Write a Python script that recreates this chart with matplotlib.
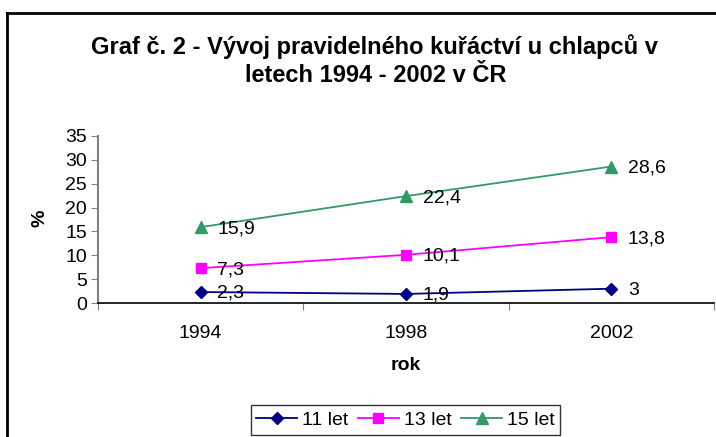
import matplotlib
matplotlib.use("Agg")
import matplotlib.pyplot as plt
from matplotlib.lines import Line2D

years = ["1994", "1998", "2002"]
series_names = ["11 let", "13 let", "15 let"]
values_11 = [2.3, 1.9, 3.0]
values_13 = [7.3, 10.1, 13.8]
values_15 = [15.9, 22.4, 28.6]
label_11 = ["2,3", "1,9", "3"]
label_13 = ["7,3", "10,1", "13,8"]
label_15 = ["15,9", "22,4", "28,6"]
y_ticks = [0, 5, 10, 15, 20, 25, 30, 35]

plt.rcParams['font.family'] = ['Liberation Sans', 'DejaVu Sans']

W, H = 716, 437
fig = plt.figure(figsize=(W / 100, H / 100), dpi=100)

def fx(px):
    return px / W

def fy(py):
    return 1 - py / H

ax = fig.add_axes([fx(98), fy(303), fx(714) - fx(98), fy(136) - fy(303)])

FS = 14
x = list(range(len(years)))
styles = [
    (values_11, label_11, "#000080", "D", 6.5),
    (values_13, label_13, "#FF00FF", "s", 7),
    (values_15, label_15, "#339966", "^", 8.5),
]
for (vals, labs, col, mk, ms), name in zip(styles, series_names):
    ax.plot(x, vals, color=col, marker=mk, markersize=ms, linewidth=1.3,
            label=name, markeredgecolor=col, markerfacecolor=col)
    for xi, v, lab in zip(x, vals, labs):
        ax.annotate(lab, (xi, v), xytext=(12, -1), textcoords="offset points",
                    ha="left", va="center", fontsize=FS, color="black")

ax.set_xlim(-0.5, 2.5)
ax.set_ylim(0, 35)
ax.set_yticks(y_ticks)
ax.set_yticklabels([str(t) for t in y_ticks], fontsize=FS)
ax.set_xticks([-0.5, 0.5, 1.5, 2.5])
ax.set_xticklabels([])
ax.set_xticks(x, minor=True)
ax.set_xticklabels(years, minor=True, fontsize=FS)
ax.tick_params(axis="x", which="major", length=5, color="#808080", direction="out")
ax.tick_params(axis="x", which="minor", length=0, pad=16)
ax.tick_params(axis="y", length=5, color="#808080", direction="out", pad=3)

for s in ["top", "right"]:
    ax.spines[s].set_visible(False)
ax.spines["left"].set_color("#808080")
ax.spines["left"].set_linewidth(1.5)
ax.spines["bottom"].set_color("black")
ax.spines["bottom"].set_linewidth(1.2)
ax.patch.set_alpha(0)

fig.text(fx(40), fy(218), "%", rotation=90, ha="center", va="center",
         fontsize=FS, fontweight="bold")
fig.text(fx(406), fy(366), "rok", ha="center", va="center",
         fontsize=FS, fontweight="bold")

fig.text(fx(374), fy(47), "Graf č. 2 - Vývoj pravidelného kuřáctví u chlapců v",
         ha="center", va="center", fontsize=17, fontweight="bold")
fig.text(fx(376), fy(75), "letech 1994 - 2002 v ČR",
         ha="center", va="center", fontsize=17, fontweight="bold")

leg = fig.legend(loc="center", bbox_to_anchor=(fx(405.5), fy(420)), ncol=3,
                 frameon=True, fancybox=False, fontsize=FS, handlelength=2.1,
                 handletextpad=0.25, columnspacing=0.5, borderpad=0.3)
leg.get_frame().set_edgecolor("black")
leg.get_frame().set_linewidth(1.0)

fig.add_artist(Line2D([fx(7), fx(7)], [fy(13), 0], color="black", linewidth=2,
                      transform=fig.transFigure))
fig.add_artist(Line2D([fx(7), 1], [fy(13), fy(13)], color="black", linewidth=2,
                      transform=fig.transFigure))

fig.savefig("out.png", dpi=100)
